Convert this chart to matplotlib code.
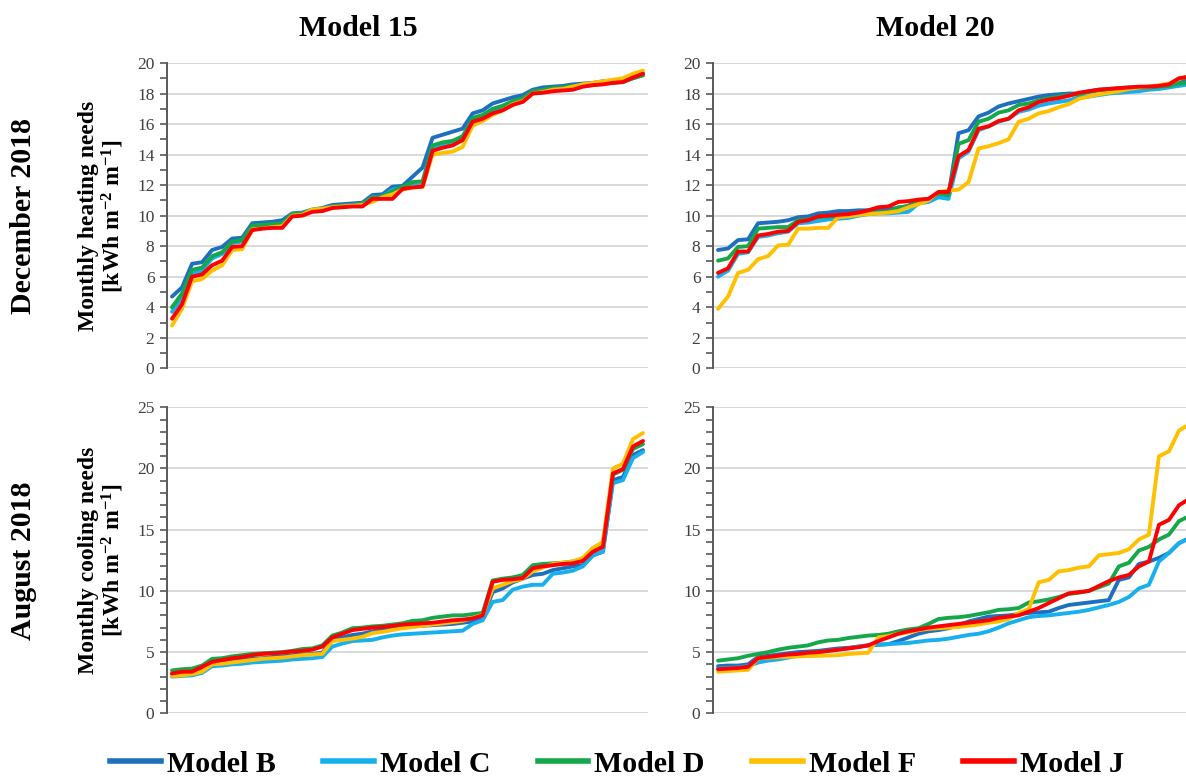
import numpy as np
import matplotlib
matplotlib.use('Agg')
import matplotlib.pyplot as plt
from matplotlib.ticker import MultipleLocator
from matplotlib.lines import Line2D

plt.rcParams['font.family'] = ['Liberation Serif', 'DejaVu Serif']
plt.rcParams['mathtext.fontset'] = 'custom'
plt.rcParams['mathtext.rm'] = 'Liberation Serif:bold'
plt.rcParams['mathtext.bf'] = 'Liberation Serif:bold'
plt.rcParams['mathtext.it'] = 'Liberation Serif:bold:italic'

models = ['Model B', 'Model C', 'Model D', 'Model F', 'Model J']
colors = ['#1f6fc0', '#17b0ef', '#14a84b', '#ffc000', '#ff0000']

# ---------------- December 2018, Model 15 (heating) ----------------
dec15_B = [4.7, 5.3, 6.85, 6.95, 7.75, 7.95, 8.5, 8.55, 9.5, 9.55,
           9.6, 9.7, 10.15, 10.2, 10.4, 10.5, 10.7, 10.75, 10.8, 10.85,
           11.35, 11.4, 11.9, 11.95, 12.55, 13.15, 15.1, 15.3, 15.5, 15.7,
           16.7, 16.9, 17.35, 17.55, 17.75, 17.9, 18.25, 18.4, 18.45, 18.5,
           18.6, 18.65, 18.7, 18.8, 18.85, 18.9, 19.15, 19.3]
dec15_C = [3.7, 4.6, 6.2, 6.4, 7.2, 7.5, 8.2, 8.3, 9.3, 9.35,
           9.4, 9.45, 10.1, 10.15, 10.35, 10.45, 10.6, 10.65, 10.7, 10.75,
           11.2, 11.25, 11.7, 11.8, 12.0, 12.0, 14.4, 14.6, 14.75, 15.0,
           16.3, 16.5, 16.9, 17.1, 17.45, 17.65, 18.1, 18.2, 18.3, 18.35,
           18.45, 18.5, 18.55, 18.65, 18.7, 18.75, 19.0, 19.2]
dec15_D = [4.0, 4.9, 6.45, 6.6, 7.35, 7.6, 8.3, 8.4, 9.35, 9.4,
           9.45, 9.5, 10.1, 10.15, 10.35, 10.45, 10.6, 10.65, 10.7, 10.75,
           11.2, 11.25, 11.6, 11.9, 12.2, 12.25, 14.6, 14.8, 14.9, 15.2,
           16.4, 16.6, 17.0, 17.2, 17.5, 17.7, 18.15, 18.25, 18.35, 18.4,
           18.5, 18.55, 18.6, 18.7, 18.75, 18.8, 19.0, 19.2]
dec15_F = [2.8, 3.9, 5.7, 5.85, 6.4, 6.75, 7.75, 7.8, 9.1, 9.15,
           9.25, 9.3, 10.0, 10.05, 10.4, 10.45, 10.55, 10.6, 10.65, 10.7,
           10.9, 11.2, 11.4, 11.7, 11.85, 11.9, 14.0, 14.1, 14.2, 14.5,
           15.9, 16.2, 16.6, 16.9, 17.3, 17.5, 18.0, 18.1, 18.25, 18.3,
           18.45, 18.6, 18.7, 18.8, 18.9, 19.0, 19.3, 19.5]
dec15_J = [3.25, 4.2, 6.0, 6.15, 6.75, 7.05, 7.95, 8.0, 9.05, 9.15,
           9.2, 9.2, 9.95, 10.0, 10.25, 10.3, 10.5, 10.55, 10.6, 10.6,
           11.1, 11.1, 11.1, 11.75, 11.85, 11.9, 14.25, 14.45, 14.6, 14.95,
           16.15, 16.35, 16.7, 16.9, 17.25, 17.45, 18.0, 18.05, 18.15, 18.2,
           18.25, 18.45, 18.55, 18.6, 18.7, 18.75, 19.05, 19.3]

# ---------------- December 2018, Model 20 (heating) ----------------
dec20_B = [7.75, 7.85, 8.4, 8.45, 9.5, 9.55, 9.6, 9.7, 9.9, 9.95,
           10.15, 10.2, 10.3, 10.3, 10.35, 10.35, 10.4, 10.45, 10.5, 10.65,
           11.0, 11.1, 11.4, 11.35, 15.4, 15.6, 16.5, 16.75, 17.15, 17.35,
           17.5, 17.65, 17.8, 17.9, 17.95, 18.0, 18.0, 18.15, 18.25, 18.3,
           18.35, 18.4, 18.4, 18.45, 18.5, 18.6, 18.8, 18.9]
dec20_C = [6.0, 6.4, 7.5, 7.6, 8.6, 8.7, 8.85, 8.95, 9.5, 9.55,
           9.65, 9.75, 9.8, 9.85, 10.0, 10.1, 10.15, 10.15, 10.2, 10.25,
           10.8, 10.9, 11.2, 11.1, 13.75, 14.2, 15.6, 15.85, 16.15, 16.35,
           16.8, 16.95, 17.2, 17.35, 17.45, 17.55, 17.75, 17.8, 17.9, 18.0,
           18.05, 18.1, 18.15, 18.25, 18.3, 18.4, 18.5, 18.6]
dec20_D = [7.05, 7.2, 7.95, 8.0, 9.15, 9.2, 9.25, 9.25, 9.7, 9.75,
           9.9, 9.95, 10.0, 10.05, 10.1, 10.15, 10.2, 10.25, 10.55, 10.6,
           10.9, 11.05, 11.45, 11.35, 14.7, 14.95, 16.15, 16.35, 16.75, 16.9,
           17.25, 17.35, 17.55, 17.7, 17.8, 17.9, 17.95, 18.1, 18.2, 18.25,
           18.3, 18.35, 18.4, 18.4, 18.45, 18.5, 18.65, 18.75]
dec20_F = [3.9, 4.7, 6.25, 6.45, 7.15, 7.35, 8.05, 8.1, 9.15, 9.15,
           9.2, 9.2, 9.9, 9.95, 10.05, 10.1, 10.15, 10.2, 10.3, 10.55,
           10.75, 11.0, 11.55, 11.65, 11.7, 12.2, 14.4, 14.55, 14.75, 15.0,
           16.15, 16.35, 16.7, 16.85, 17.1, 17.3, 17.65, 17.8, 17.95, 18.05,
           18.15, 18.3, 18.4, 18.45, 18.55, 18.65, 18.95, 19.15]
dec20_J = [6.25, 6.55, 7.65, 7.65, 8.7, 8.8, 8.95, 9.0, 9.6, 9.7,
           9.95, 10.0, 10.05, 10.1, 10.2, 10.35, 10.55, 10.6, 10.9, 10.95,
           11.05, 11.1, 11.55, 11.55, 13.9, 14.3, 15.7, 15.85, 16.2, 16.35,
           16.9, 17.1, 17.45, 17.6, 17.7, 17.85, 18.05, 18.15, 18.25, 18.3,
           18.35, 18.4, 18.45, 18.45, 18.5, 18.6, 19.0, 19.1]

# ---------------- August 2018, Model 15 (cooling) ----------------
aug15_B = [3.2, 3.3, 3.3, 3.5, 4.1, 4.2, 4.3, 4.35, 4.45, 4.5,
           4.6, 4.65, 4.75, 4.8, 4.85, 4.95, 6.0, 6.2, 6.4, 6.5,
           6.7, 6.8, 6.9, 7.0, 7.1, 7.15, 7.2, 7.25, 7.3, 7.4,
           7.5, 7.8, 9.9, 10.2, 10.7, 11.0, 11.3, 11.4, 11.7, 11.85,
           12.0, 12.1, 12.9, 13.2, 19.05, 19.3, 21.1, 21.5]
aug15_C = [3.0, 3.05, 3.1, 3.3, 3.85, 3.9, 4.0, 4.05, 4.15, 4.2,
           4.25, 4.3, 4.4, 4.45, 4.5, 4.6, 5.45, 5.7, 5.9, 5.95,
           6.0, 6.2, 6.35, 6.45, 6.5, 6.55, 6.6, 6.65, 6.7, 6.75,
           7.3, 7.6, 9.1, 9.25, 10.1, 10.35, 10.5, 10.5, 11.4, 11.5,
           11.65, 12.0, 12.9, 13.2, 18.8, 19.05, 20.85, 21.35]
aug15_D = [3.5, 3.6, 3.65, 3.9, 4.45, 4.5, 4.65, 4.75, 4.85, 4.9,
           4.95, 5.0, 5.1, 5.25, 5.3, 5.55, 6.35, 6.6, 6.95, 7.0,
           7.1, 7.15, 7.25, 7.35, 7.55, 7.6, 7.8, 7.9, 8.0, 8.0,
           8.1, 8.2, 10.85, 11.0, 11.1, 11.3, 12.1, 12.2, 12.25, 12.3,
           12.4, 12.6, 13.5, 13.9, 19.5, 19.9, 21.6, 22.0]
aug15_F = [3.05, 3.1, 3.2, 3.4, 4.0, 4.05, 4.15, 4.25, 4.35, 4.45,
           4.5, 4.55, 4.65, 4.75, 4.8, 4.85, 5.9, 6.0, 6.1, 6.25,
           6.55, 6.65, 6.8, 6.95, 7.05, 7.15, 7.25, 7.35, 7.45, 7.55,
           7.8, 8.05, 10.2, 10.5, 10.8, 11.0, 11.6, 11.9, 12.2, 12.3,
           12.4, 12.7, 13.5, 14.0, 20.0, 20.4, 22.4, 22.9]
aug15_J = [3.25, 3.4, 3.4, 3.8, 4.2, 4.35, 4.5, 4.6, 4.75, 4.85,
           4.9, 4.95, 5.05, 5.1, 5.2, 5.45, 6.2, 6.5, 6.8, 6.9,
           7.0, 7.05, 7.15, 7.25, 7.3, 7.35, 7.4, 7.5, 7.6, 7.65,
           7.75, 8.0, 10.75, 10.9, 10.95, 11.05, 11.85, 12.0, 12.1, 12.2,
           12.25, 12.45, 13.2, 13.6, 19.6, 19.95, 21.8, 22.25]

# ---------------- August 2018, Model 20 (cooling) ----------------
aug20_B = [3.85, 3.9, 3.9, 4.0, 4.6, 4.7, 4.8, 4.9, 5.0, 5.05,
           5.1, 5.2, 5.3, 5.35, 5.45, 5.55, 5.6, 5.65, 5.9, 6.2,
           6.5, 6.7, 6.8, 6.95, 7.2, 7.5, 7.7, 7.9, 7.95, 8.0,
           8.1, 8.2, 8.25, 8.3, 8.6, 8.85, 8.95, 9.05, 9.15, 9.25,
           10.9, 11.1, 12.2, 12.4, 12.7, 13.1, 13.9, 14.3]
aug20_C = [3.65, 3.7, 3.75, 3.85, 4.15, 4.3, 4.4, 4.55, 4.7, 4.85,
           5.0, 5.1, 5.2, 5.3, 5.45, 5.55, 5.6, 5.65, 5.7, 5.75,
           5.85, 5.95, 6.0, 6.1, 6.25, 6.4, 6.5, 6.7, 7.0, 7.35,
           7.6, 7.85, 7.95, 8.0, 8.1, 8.2, 8.3, 8.45, 8.65, 8.85,
           9.1, 9.5, 10.2, 10.5, 12.4, 13.1, 13.9, 14.3]
aug20_D = [4.3, 4.4, 4.5, 4.7, 4.85, 5.0, 5.2, 5.35, 5.45, 5.55,
           5.8, 5.95, 6.0, 6.15, 6.25, 6.35, 6.4, 6.5, 6.7, 6.85,
           6.95, 7.3, 7.7, 7.8, 7.85, 7.95, 8.1, 8.25, 8.45, 8.5,
           8.6, 9.05, 9.15, 9.3, 9.5, 9.75, 9.85, 10.0, 10.3, 10.6,
           12.0, 12.3, 13.3, 13.6, 14.2, 14.6, 15.7, 16.1]
aug20_F = [3.4, 3.45, 3.5, 3.55, 4.5, 4.55, 4.6, 4.62, 4.65, 4.68,
           4.7, 4.72, 4.75, 4.85, 4.9, 4.95, 6.2, 6.3, 6.5, 6.6,
           6.8, 6.9, 6.95, 7.0, 7.05, 7.15, 7.25, 7.4, 7.5, 7.7,
           8.2, 8.5, 10.7, 10.9, 11.6, 11.7, 11.9, 12.0, 12.9, 13.0,
           13.1, 13.4, 14.2, 14.6, 21.0, 21.4, 23.1, 23.6]
aug20_J = [3.6, 3.65, 3.7, 3.8, 4.5, 4.6, 4.7, 4.8, 4.85, 4.95,
           5.0, 5.1, 5.2, 5.3, 5.4, 5.55, 5.9, 6.2, 6.5, 6.7,
           6.85, 7.0, 7.1, 7.2, 7.3, 7.4, 7.5, 7.6, 7.8, 7.9,
           8.0, 8.3, 8.6, 9.0, 9.4, 9.8, 9.9, 10.0, 10.4, 10.8,
           11.1, 11.3, 12.0, 12.4, 15.4, 15.8, 17.0, 17.5]

col_titles = ['Model 15', 'Model 20']
row_titles = ['December 2018', 'August 2018']
ylabels = ['Monthly heating needs\n[kWh m$^{-2}$ m$^{-1}$]',
           'Monthly cooling needs\n[kWh m$^{-2}$ m$^{-1}$]']

panels = [
    [dec15_B, dec15_C, dec15_D, dec15_F, dec15_J],
    [dec20_B, dec20_C, dec20_D, dec20_F, dec20_J],
    [aug15_B, aug15_C, aug15_D, aug15_F, aug15_J],
    [aug20_B, aug20_C, aug20_D, aug20_F, aug20_J],
]

W, H = 1186, 778
fig = plt.figure(figsize=(W / 100, H / 100), dpi=100)


def axpos(l, t, r, b):
    return [l / W, 1 - b / H, (r - l) / W, (b - t) / H]


boxes = [(167, 63, 648, 368.3), (713, 63, 1194, 368.3),
         (167, 407.3, 648, 713.3), (713, 407.3, 1194, 713.3)]

axes = []
for k, (box, series) in enumerate(zip(boxes, panels)):
    ax = fig.add_axes(axpos(*box))
    axes.append(ax)
    for vals, c, name in zip(series, colors, models):
        x = np.arange(len(vals))
        ax.plot(x, vals, color=c, lw=2.8, solid_joinstyle='round',
                solid_capstyle='round', label=name)
    ax.set_xlim(-0.5, 47.5)
    if k < 2:
        ax.set_ylim(0, 20)
        ax.yaxis.set_major_locator(MultipleLocator(2))
        ax.yaxis.set_minor_locator(MultipleLocator(1))
    else:
        ax.set_ylim(0, 25)
        ax.yaxis.set_major_locator(MultipleLocator(5))
        ax.yaxis.set_minor_locator(MultipleLocator(1))
    ax.set_xticks([])
    ax.grid(axis='y', which='major', color='#d9d9d9', lw=1.4)
    ax.set_axisbelow(True)
    for s in ['top', 'right', 'bottom']:
        ax.spines[s].set_visible(False)
    ax.spines['left'].set_color('#595959')
    ax.spines['left'].set_linewidth(1.4)
    ax.tick_params(axis='y', which='both', length=5, width=1.2,
                   color='#595959', labelsize=12.5, labelcolor='#404040',
                   pad=4)
    if k % 2 == 0:
        ax.set_ylabel(ylabels[k // 2], fontsize=17, fontweight='bold',
                      linespacing=1.0)
        ax.yaxis.set_label_coords(-0.086, 0.5)

for title, xc in zip(col_titles, [358, 935]):
    fig.text(xc / W, 1 - 28 / H, title, ha='center', va='center',
             fontsize=21.5, fontweight='bold')

for title, yc in zip(row_titles, [216, 561]):
    fig.text(24 / W, 1 - yc / H, title, ha='center', va='center',
             rotation=90, fontsize=21.5, fontweight='bold')

handles = [Line2D([0], [0], color=c, lw=4) for c in colors]
fig.legend(handles, models, loc='center', bbox_to_anchor=(617 / W, 1 - 764 / H),
           ncol=5, frameon=False,
           prop=dict(family='Liberation Serif', weight='bold', size=21.5),
           handlelength=1.7, handletextpad=0.2, columnspacing=1.58,
           borderpad=0, borderaxespad=0)

fig.savefig('out.png', dpi=100)
